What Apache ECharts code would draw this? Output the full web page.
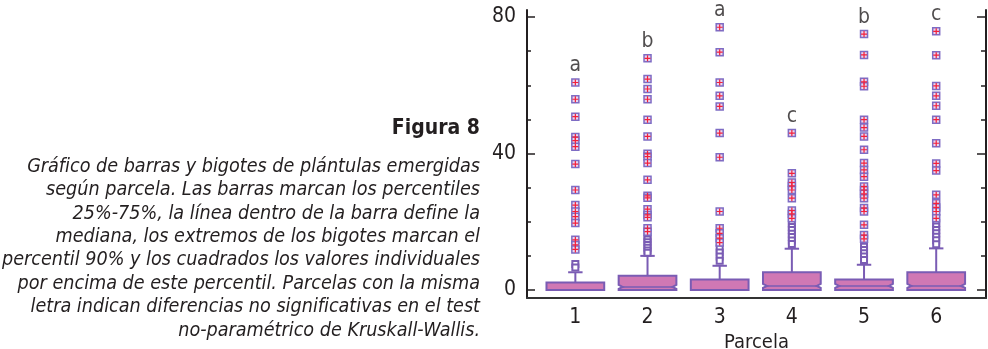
<!DOCTYPE html>
<html lang="es">

<head>
  <meta charset="UTF-8">
  <title>Figura 8</title>
  <style>
    html, body { margin: 0; padding: 0; background: #fff; }
    #root { width: 988px; height: 349px; }
  </style>
</head>

<body>
  <div id="root"></div>
</body>
<script src="https://cdn.jsdelivr.net/npm/echarts@6/dist/echarts.min.js"></script>
<script>
  // parcelas y letras de Kruskall-Wallis
  const parcelas = [1, 2, 3, 4, 5, 6]
  const letras = ['a', 'b', 'a', 'c', 'b', 'c']

  // percentil 25, mediana, percentil 75, percentil 90 (bigote)
  const p25 = [0, 0, 0, 0, 0, 0]
  const mediana = [0, 0.9, 0, 1.2, 1.2, 1.2]
  const p75 = [2.2, 4.2, 3.1, 5.2, 3.1, 5.2]
  const p90 = [5.2, 10, 7.1, 12.1, 7.4, 12.2]

  // valores individuales por encima del percentil 90 (cuadrados con cruz)
  const extremos = [
    [60.8, 55.9, 50.8, 44.8, 43.8, 42.0, 36.9, 29.3, 24.9, 23.0, 21.5, 19.6, 14.7, 13.2, 11.9],
    [67.9, 61.8, 58.9, 55.9, 49.9, 45.0, 39.9, 39.1, 37.2, 32.3, 27.6, 27.0, 23.7, 22.0, 21.3, 18.1, 17.1],
    [77.0, 69.7, 60.8, 56.9, 53.8, 46.0, 38.9, 23.0, 18.1, 16.6, 15.2, 13.9],
    [46.0, 34.2, 31.5, 30.5, 29.3, 26.9, 23.3, 22.3, 21.0],
    [75.0, 68.9, 61.0, 59.7, 49.9, 47.6, 45.0, 41.1, 37.2, 35.2, 33.2, 30.3, 29.3, 28.2, 26.9, 24.0, 23.0, 19.1, 16.1, 15.0],
    [75.8, 68.8, 59.8, 56.9, 54.0, 49.9, 43.0, 37.1, 35.0, 27.9, 25.4, 24.2, 23.0, 21.0]
  ]
  // cuadrados abiertos
  const atipicos = [
    [7.6, 6.6],
    [15.6, 14.8, 14.0, 13.2, 12.4, 11.6, 10.9],
    [12.2, 11.0, 9.8, 8.6],
    [19.5, 18.5, 17.6, 16.5, 15.5, 14.5, 13.5],
    [12.7, 11.7, 10.8, 9.8, 8.8],
    [19.6, 18.6, 17.6, 16.6, 15.6, 14.6, 13.4]
  ]

  const ticksMenores = [0, 10, 20, 30, 40, 50, 60, 70, 80]
  const ticksMayores = [0, 40, 80]

  const fuente = '"Liberation Sans Narrow", "DejaVu Sans Condensed", sans-serif'
  const negro = '#231f20'
  const morado = '#7a5cb4'
  const rosa = '#d078b4'

  const cajas = parcelas.map((p, i) => [p, p25[i], mediana[i], p75[i], p90[i]])
  const puntosCruz = []
  const puntosAbiertos = []
  parcelas.forEach((p, i) => {
    extremos[i].forEach(v => puntosCruz.push([p, v]))
    atipicos[i].forEach(v => puntosAbiertos.push([p, v]))
  })
  const puntosLetra = parcelas.map((p, i) => ({ value: [p, Math.max(...extremos[i])], letra: letras[i] }))

  function dibujarCaja(params, api) {
    const x = api.value(0)
    const cx = api.coord([x, 0])[0]
    const w = api.size([0.8, 0])[0]
    const cap = api.size([0.2, 0])[0]
    const L = cx - w / 2
    const R = cx + w / 2
    const y1 = api.coord([x, api.value(1)])[1]
    const ym = api.coord([x, api.value(2)])[1]
    const y3 = api.coord([x, api.value(3)])[1]
    const yw = api.coord([x, api.value(4)])[1]
    const d = 4
    const n = 2
    let pts
    if (y1 - ym > 1) {
      const yb = Math.min(ym + n, y1)
      const yt = Math.max(ym - n, y3)
      pts = [[L, y1], [L, yb], [L + d, ym], [L, yt], [L, y3], [R, y3], [R, yt], [R - d, ym], [R, yb], [R, y1]]
    } else {
      pts = [[L, y1], [L, y3], [R, y3], [R, y1]]
    }
    const estiloLinea = { stroke: morado, lineWidth: 2 }
    return {
      type: 'group',
      children: [
        { type: 'line', shape: { x1: cx, y1: y3, x2: cx, y2: yw }, style: estiloLinea },
        { type: 'line', shape: { x1: cx - cap / 2, y1: yw, x2: cx + cap / 2, y2: yw }, style: estiloLinea },
        { type: 'polygon', shape: { points: pts }, style: { fill: rosa, stroke: morado, lineWidth: 2 } },
        { type: 'line', shape: { x1: L + d, y1: ym, x2: R - d, y2: ym }, style: { stroke: morado, lineWidth: 1.5 } }
      ]
    }
  }

  const ejeY = (pos, linea, largo, valores, etiquetas) => ({
    type: 'value',
    position: pos,
    min: -2.34,
    max: 82.05,
    axisLine: { show: linea, onZero: false, lineStyle: { color: negro, width: 2 } },
    axisTick: { show: true, inside: true, length: largo, customValues: valores, lineStyle: { color: negro, width: 1.5 } },
    axisLabel: etiquetas
      ? { show: true, customValues: ticksMayores, margin: 11, fontSize: 21, color: negro, fontFamily: fuente }
      : { show: false },
    splitLine: { show: false }
  })

  let myChart = echarts.init(document.getElementById('root'))

  let option = {
    animation: false,
    backgroundColor: '#fff',
    grid: { left: 527, right: 2, top: 10, bottom: 51, outerBoundsMode: 'none', containLabel: false },
    graphic: [
      {
        type: 'text', right: 988 - 480, top: 118,
        style: { text: 'Figura 8', font: 'bold 21px ' + fuente, fill: negro, textAlign: 'right' }
      },
      {
        type: 'text', x: 480, y: 155,
        style: {
          text: [
            'Gráfico de barras y bigotes de plántulas emergidas',
            'según parcela. Las barras marcan los percentiles',
            '25%-75%, la línea dentro de la barra define la',
            'mediana, los extremos de los bigotes marcan el',
            'percentil 90% y los cuadrados los valores individuales',
            'por encima de este percentil. Parcelas con la misma',
            'letra indican diferencias no significativas en el test',
            'no-paramétrico de Kruskall-Wallis.'
          ].join('\n'),
          font: 'italic 19.6px ' + fuente,
          lineHeight: 23.4,
          fill: negro,
          align: 'right',
          verticalAlign: 'top'
        }
      }
    ],
    xAxis: {
      type: 'value',
      min: 0.33,
      max: 6.69,
      name: 'Parcela',
      nameLocation: 'middle',
      nameGap: 27,
      nameTextStyle: { fontSize: 20, color: negro, fontFamily: fuente },
      axisLine: { show: true, onZero: false, lineStyle: { color: '#333', width: 2 } },
      axisTick: { show: false },
      axisLabel: { customValues: parcelas, margin: 9, fontSize: 21, color: negro, fontFamily: fuente },
      splitLine: { show: false }
    },
    yAxis: [
      ejeY('left', true, 4, ticksMenores, true),
      ejeY('left', false, 8, ticksMayores, false),
      ejeY('right', true, 5, ticksMenores, false),
      ejeY('right', false, 9, ticksMayores, false)
    ],
    series: [
      {
        type: 'custom',
        renderItem: dibujarCaja,
        data: cajas,
        encode: { x: 0, y: [1, 2, 3, 4] },
        z: 2
      },
      {
        type: 'scatter',
        data: puntosAbiertos,
        symbol: 'rect',
        symbolSize: 6,
        itemStyle: { color: '#fff', borderColor: morado, borderWidth: 2, opacity: 1 },
        z: 3
      },
      {
        type: 'scatter',
        data: puntosCruz,
        symbol: 'rect',
        symbolSize: 7,
        itemStyle: { color: '#e9d6f0', borderColor: '#7e6cc4', borderWidth: 1.5, opacity: 1 },
        z: 3
      },
      {
        type: 'scatter',
        data: puntosCruz,
        symbol: 'path://M2.4,0H3.6V2.4H6V3.6H3.6V6H2.4V3.6H0V2.4H2.4Z',
        symbolSize: 6,
        itemStyle: { color: '#f3203a', opacity: 1 },
        z: 4
      },
      {
        type: 'scatter',
        data: puntosLetra,
        symbolSize: 0,
        label: {
          show: true,
          position: 'top',
          distance: 6,
          formatter: p => p.data.letra,
          fontSize: 21,
          color: negro,
          fontFamily: fuente
        },
        z: 5
      }
    ]
  }

  myChart.setOption(option)
</script>

</html>
